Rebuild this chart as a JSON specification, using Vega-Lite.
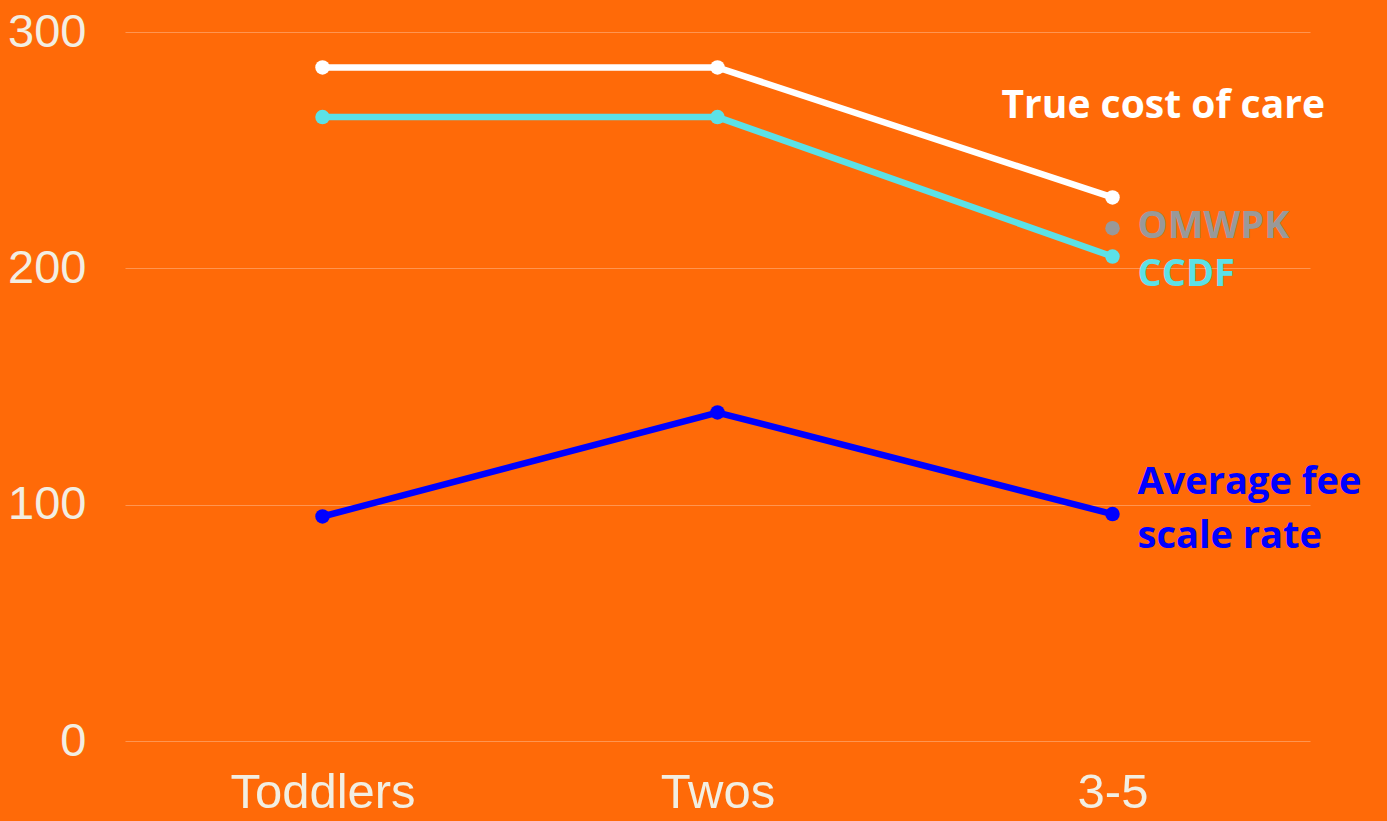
{
  "$schema": "https://vega.github.io/schema/vega-lite/v6.json",
  "autosize": {"type": "none"},
  "width": 1185,
  "height": 709,
  "padding": {"left": 125, "top": 32, "right": 77, "bottom": 80},
  "background": "#FF6A08",
  "config": {
    "view": {"stroke": null},
    "axis": {
      "labelFont": "Liberation Sans",
      "labelFontSize": 47,
      "labelColor": "#F2EEE2",
      "labelLimit": 400,
      "domain": false,
      "ticks": false,
      "title": null,
      "gridColor": "#FF9550",
      "gridWidth": 1.2
    }
  },
  "datasets": {
    "series": [
      {"group": "Toddlers", "series": "True cost of care", "value": 285},
      {"group": "Twos", "series": "True cost of care", "value": 285},
      {"group": "3-5", "series": "True cost of care", "value": 230},
      {"group": "Toddlers", "series": "CCDF", "value": 264},
      {"group": "Twos", "series": "CCDF", "value": 264},
      {"group": "3-5", "series": "CCDF", "value": 205},
      {"group": "3-5", "series": "OMWPK", "value": 217},
      {"group": "Toddlers", "series": "Average fee scale rate", "value": 95},
      {"group": "Twos", "series": "Average fee scale rate", "value": 139},
      {"group": "3-5", "series": "Average fee scale rate", "value": 96}
    ],
    "labels": [
      {"group": "3-5", "series": "OMWPK", "label": "OMWPK", "value": 217.5},
      {"group": "3-5", "series": "CCDF", "label": "CCDF", "value": 197},
      {"group": "3-5", "series": "Average fee scale rate", "label": "Average fee\nscale rate", "value": 109}
    ],
    "titleLabel": [
      {"group": "3-5", "series": "True cost of care", "label": "True cost of care", "value": 268.5}
    ]
  },
  "encoding": {
    "x": {
      "field": "group",
      "type": "nominal",
      "sort": ["Toddlers", "Twos", "3-5"],
      "scale": {"type": "point", "padding": 0.5},
      "axis": {"labelAngle": 0, "labelPadding": 27, "labelFontSize": 49, "grid": false}
    },
    "y": {
      "field": "value",
      "type": "quantitative",
      "scale": {"domain": [0, 300]},
      "axis": {"values": [0, 100, 200, 300], "labelPadding": 39, "grid": true}
    },
    "color": {
      "field": "series",
      "type": "nominal",
      "scale": {
        "domain": ["True cost of care", "CCDF", "OMWPK", "Average fee scale rate"],
        "range": ["#FFFFFF", "#5CE1E6", "#999999", "#0000FF"]
      },
      "legend": null
    }
  },
  "layer": [
    {
      "data": {"name": "series"},
      "mark": {"type": "line", "strokeWidth": 6.5},
      "encoding": {}
    },
    {
      "data": {"name": "series"},
      "mark": {"type": "point", "filled": true, "opacity": 1, "size": 210},
      "encoding": {}
    },
    {
      "data": {"name": "labels"},
      "mark": {"type": "text", "align": "left", "baseline": "middle", "dx": 25, "font": "Open Sans", "fontWeight": "bold", "fontSize": 38, "lineHeight": 54, "lineBreak": "\n"},
      "encoding": {"text": {"field": "label"}}
    },
    {
      "data": {"name": "titleLabel"},
      "mark": {"type": "text", "align": "left", "baseline": "middle", "dx": -111, "font": "Open Sans", "fontWeight": "bold", "fontSize": 39},
      "encoding": {"text": {"field": "label"}}
    }
  ]
}
